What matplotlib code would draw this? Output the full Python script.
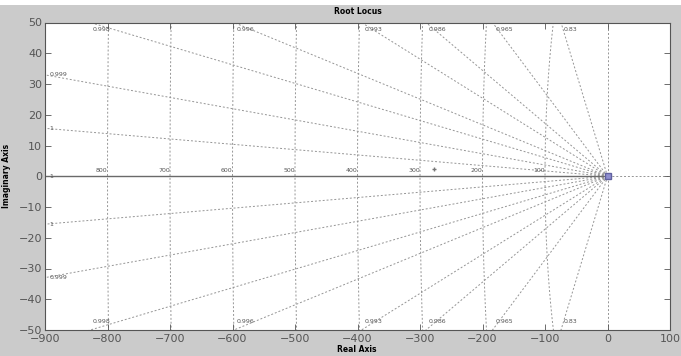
import numpy as np
import matplotlib
matplotlib.use("Agg")
import matplotlib.pyplot as plt
from matplotlib.patches import Rectangle

# ---- data ----
zetas = [0.99985, 0.99933, 0.99818, 0.99652, 0.99203, 0.98550, 0.965, 0.83]
zeta_labels = ["1", "0.999", "0.998", "0.996", "0.993", "0.986", "0.965", "0.83"]
wn_values = [100, 200, 300, 400, 500, 600, 700, 800]
wn_labels = ["100", "200", "300", "400", "500", "600", "700", "800"]
x_ticks = [-900, -800, -700, -600, -500, -400, -300, -200, -100, 0, 100]
y_ticks = [-50, -40, -30, -20, -10, 0, 10, 20, 30, 40, 50]
locus_x = [-900, 0]
locus_y = [0, 0]
pole_x = [0]
pole_y = [0]
mark_x = [-278]
mark_y = [2.2]

XMIN, XMAX, YMIN, YMAX = -900, 100, -50, 50

fig = plt.figure(figsize=(6.81, 3.56), dpi=100)
fig.patch.set_facecolor("#cbcbcb")
fig.add_artist(Rectangle((0, 1 - 5 / 356), 1, 5 / 356, transform=fig.transFigure,
                         facecolor="white", edgecolor="none"))
ax = fig.add_axes([45 / 681, 26 / 356, 625 / 681, 307.5 / 356])
ax.set_facecolor("white")

gcol = "#959595"
gls = (0, (2, 2))
glw = 0.7

# natural-frequency arcs
th = np.linspace(np.pi / 2, 3 * np.pi / 2, 400)
for r in wn_values:
    ax.plot(r * np.cos(th), r * np.sin(th), color=gcol, ls=gls, lw=glw, zorder=1)
# imaginary axis (zeta = 0)
ax.plot([0, 0], [YMIN, YMAX], color=gcol, ls=gls, lw=glw, zorder=1)
# positive real axis
ax.plot([0, XMAX], [0, 0], color=gcol, ls=gls, lw=glw, zorder=1)

# damping lines
t = 3000
for z, lab in zip(zetas, zeta_labels):
    s = np.sqrt(1 - z ** 2)
    for sg in (1, -1):
        ax.plot([0, -t * z], [0, sg * t * s], color=gcol, ls=gls, lw=glw, zorder=1)
        slope = s / z
        if slope * (-XMIN) < YMAX:
            yy = sg * slope * (-XMIN)
            ax.annotate(lab, (XMIN, yy), xytext=(3, 0), textcoords="offset points",
                        ha="left", va="center", fontsize=4.5, color="#555555")
        else:
            xx = -YMAX / slope
            if sg > 0:
                ax.annotate(lab, (xx, YMAX), xytext=(2, -3.5), textcoords="offset points",
                            ha="left", va="top", fontsize=4.5, color="#555555")
            else:
                ax.annotate(lab, (xx, YMIN), xytext=(2, 4), textcoords="offset points",
                            ha="left", va="bottom", fontsize=4.5, color="#555555")
# zeta = 1 label on the real axis
ax.annotate("1", (XMIN, 0), xytext=(3, 0), textcoords="offset points",
            ha="left", va="center", fontsize=4.5, color="#555555")

# wn labels
for r, lab in zip(wn_values, wn_labels):
    ax.annotate(lab, (-r, 0), xytext=(0, 2.5), textcoords="offset points",
                ha="right", va="bottom", fontsize=4.5, color="#555555")

# locus
ax.plot(locus_x, locus_y, color="#6a6a6a", lw=1.0, zorder=2)
ax.plot(pole_x, pole_y, marker="s", ms=5, color="#8f8fd0", mec="#6060a0", ls="none", zorder=3)
ax.plot(mark_x, mark_y, marker="+", ms=3, color="#777777", ls="none", zorder=3)

ax.set_xlim(XMIN, XMAX)
ax.set_ylim(YMIN, YMAX)
ax.set_xticks(x_ticks)
ax.set_yticks(y_ticks)
ax.tick_params(direction="in", length=4, width=0.6, colors="#555555", labelsize=8,
               top=True, right=True, pad=2)
ax.tick_params(axis="x", pad=3)
for lbl in ax.get_xticklabels() + ax.get_yticklabels():
    lbl.set_color("#555555")
for sp in ax.spines.values():
    sp.set_color("#555555")
    sp.set_linewidth(0.8)

ax.set_title("Root Locus", fontsize=5.5, fontweight="bold", pad=6)
fig.text(357 / 681, 1 - 350 / 356, "Real Axis", ha="center", va="center",
         fontsize=5.5, fontweight="bold")
fig.text(7 / 681, 1 - 176 / 356, "Imaginary Axis", ha="center", va="center",
         rotation=90, fontsize=5.5, fontweight="bold")

fig.savefig("out.png", dpi=100, facecolor=fig.get_facecolor())
